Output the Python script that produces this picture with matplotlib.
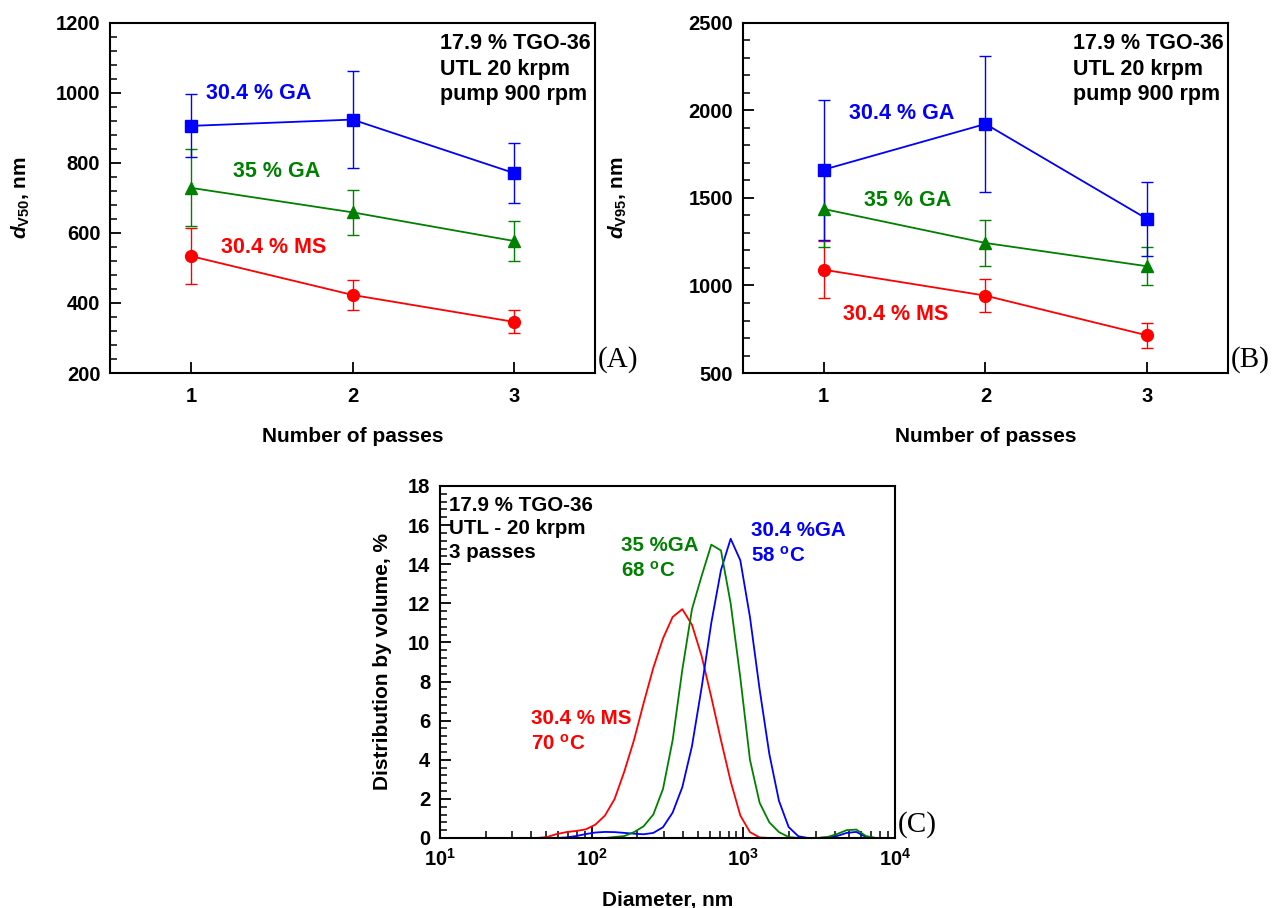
import numpy as np
import matplotlib
matplotlib.use('Agg')
import matplotlib.pyplot as plt
from matplotlib.ticker import MultipleLocator, LogLocator, NullFormatter

plt.rcParams['font.family'] = ['Liberation Sans', 'DejaVu Sans']
plt.rcParams['font.weight'] = 'bold'
plt.rcParams['axes.labelweight'] = 'bold'
plt.rcParams['mathtext.fontset'] = 'custom'
plt.rcParams['mathtext.rm'] = 'Liberation Sans:bold'
plt.rcParams['mathtext.bf'] = 'Liberation Sans:bold'
plt.rcParams['mathtext.it'] = 'Liberation Sans:italic:bold'

# --- panel A / B data (number of passes) ---
passes = [1, 2, 3]
ga304_d50 = [906, 924, 771]
ga304_d50_err = [90, 138, 85]
ga35_d50 = [729, 659, 577]
ga35_d50_err = [110, 65, 57]
ms304_d50 = [534, 423, 346]
ms304_d50_err = [80, 42, 33]

ga304_d95 = [1662, 1923, 1380]
ga304_d95_err = [400, 386, 209]
ga35_d95 = [1437, 1243, 1110]
ga35_d95_err = [215, 130, 110]
ms304_d95 = [1090, 942, 715]
ms304_d95_err = [162, 93, 72]

# --- panel C data (size distribution, instrument bins in nm) ---
diam = [10.1, 11.7, 13.54, 15.69, 18.17, 21.04, 24.36, 28.21, 32.67, 37.84,
        43.82, 50.75, 58.77, 68.06, 78.82, 91.28, 105.7, 122.4, 141.8, 164.2,
        190.1, 220.2, 255.0, 295.3, 342.0, 396.1, 458.7, 531.2, 615.1, 712.4,
        825.0, 955.4, 1106, 1281, 1484, 1718, 1990, 2305, 2669, 3091,
        3580, 4145, 4801, 5560, 6439, 7456, 8635]
dist_ms304 = [0, 0, 0, 0, 0, 0, 0, 0, 0, 0,
              0, 0.05, 0.2, 0.3, 0.36, 0.44, 0.68, 1.15, 2.0, 3.4,
              5.0, 6.9, 8.7, 10.2, 11.3, 11.7, 10.9, 9.3, 7.2, 5.0,
              2.9, 1.15, 0.3, 0.03, 0.0]
dist_ga35 = [0, 0, 0, 0, 0, 0, 0, 0, 0, 0,
             0, 0, 0, 0, 0, 0, 0, 0, 0.05, 0.1,
             0.3, 0.6, 1.2, 2.5, 5.0, 8.6, 11.7, 13.4, 15.0, 14.7,
             12.0, 8.2, 4.0, 1.8, 0.8, 0.3, 0.05, 0, 0, 0,
             0.05, 0.2, 0.4, 0.43, 0.1, 0, 0]
dist_ga304 = [0, 0, 0, 0, 0, 0, 0, 0, 0, 0,
              0, 0, 0, 0.03, 0.1, 0.2, 0.28, 0.31, 0.3, 0.26,
              0.22, 0.19, 0.26, 0.55, 1.3, 2.6, 4.7, 7.7, 11.0, 13.7,
              15.3, 14.2, 11.3, 7.6, 4.3, 1.9, 0.56, 0.09, 0, 0,
              0.03, 0.1, 0.26, 0.31, 0.05, 0, 0]

BLUE = '#0000ff'
GREEN = '#008000'
RED = '#ff0000'
TICK_FS = 14.5
LAB_FS = 15
ANN_FS = 15.5

fig = plt.figure(figsize=(12.72, 9.08), dpi=100)
axA = fig.add_axes([0.0865, 0.5892, 0.3813, 0.3855])
axB = fig.add_axes([0.5841, 0.5892, 0.3813, 0.3855])
axC = fig.add_axes([0.3459, 0.0771, 0.3577, 0.3877])


def pass_panel(ax, series, ylim, major, minor, ylabel, letter, labels):
    for y, err, col, mk in series:
        ax.errorbar(passes, y, yerr=err, color=col, marker=mk, ms=8.5,
                    lw=1.3, elinewidth=1, capsize=4, capthick=1)
    ax.set_xlim(0.5, 3.5)
    ax.set_ylim(*ylim)
    ax.set_xticks(passes)
    ax.yaxis.set_major_locator(MultipleLocator(major))
    ax.yaxis.set_minor_locator(MultipleLocator(minor))
    ax.tick_params(axis='both', which='major', direction='in', length=8,
                   width=1.3, labelsize=TICK_FS)
    ax.tick_params(axis='y', which='major', pad=7)
    ax.tick_params(axis='x', which='major', pad=10)
    ax.tick_params(axis='y', which='minor', direction='in', length=5, width=1.1)
    for s in ax.spines.values():
        s.set_linewidth(1.5)
    ax.set_xlabel('Number of passes', fontsize=LAB_FS)
    ax.xaxis.set_label_coords(0.5, -0.155)
    ax.set_ylabel(ylabel, fontsize=LAB_FS)
    ax.text(1.005, 0.0, letter, transform=ax.transAxes, fontsize=21,
            family='Liberation Serif', fontweight='normal', va='bottom')
    ax.text(0.68, 0.972, '17.9 % TGO-36\nUTL 20 krpm\npump 900 rpm',
            transform=ax.transAxes, fontsize=ANN_FS, va='top', ha='left',
            linespacing=1.3)
    for txt, col, x, y in labels:
        ax.text(x, y, txt, color=col, transform=ax.transAxes, fontsize=ANN_FS,
                va='center', ha='left')


pass_panel(axA,
           [(ms304_d50, ms304_d50_err, RED, 'o'),
            (ga35_d50, ga35_d50_err, GREEN, '^'),
            (ga304_d50, ga304_d50_err, BLUE, 's')],
           (200, 1200), 200, 40, r'$\mathit{d}_{\mathbf{V50}}$, nm', '(A)',
           [('30.4 % GA', BLUE, 0.198, 0.799),
            ('35 % GA', GREEN, 0.254, 0.576),
            ('30.4 % MS', RED, 0.229, 0.359)])
axA.yaxis.set_label_coords(-0.16, 0.5)

pass_panel(axB,
           [(ms304_d95, ms304_d95_err, RED, 'o'),
            (ga35_d95, ga35_d95_err, GREEN, '^'),
            (ga304_d95, ga304_d95_err, BLUE, 's')],
           (500, 2500), 500, 100, r'$\mathit{d}_{\mathbf{V95}}$, nm', '(B)',
           [('30.4 % GA', BLUE, 0.219, 0.741),
            ('35 % GA', GREEN, 0.249, 0.494),
            ('30.4 % MS', RED, 0.206, 0.167)])
axB.yaxis.set_label_coords(-0.235, 0.5)

# panel C
axC.plot(diam[:len(dist_ms304)], dist_ms304, color=RED, lw=1.3)
axC.plot(diam, dist_ga304, color=BLUE, lw=1.3)
axC.plot(diam, dist_ga35, color=GREEN, lw=1.3)
axC.set_xscale('log')
axC.set_xlim(10, 10000)
axC.set_ylim(0, 18)
axC.set_xticks([10, 100, 1000, 10000])
axC.set_xticklabels([r'$\mathbf{10^{1}}$', r'$\mathbf{10^{2}}$',
                     r'$\mathbf{10^{3}}$', r'$\mathbf{10^{4}}$'])
axC.xaxis.set_minor_locator(LogLocator(base=10, subs=np.arange(2, 10)))
axC.xaxis.set_minor_formatter(NullFormatter())
axC.yaxis.set_major_locator(MultipleLocator(2))
axC.yaxis.set_minor_locator(MultipleLocator(0.4))
axC.tick_params(axis='both', which='major', direction='in', length=8,
                width=1.3, labelsize=TICK_FS, pad=7)
axC.tick_params(axis='both', which='minor', direction='in', length=5, width=1.1)
for s in axC.spines.values():
    s.set_linewidth(1.5)
axC.set_xlabel('Diameter, nm', fontsize=LAB_FS)
axC.xaxis.set_label_coords(0.5, -0.15)
axC.set_ylabel('Distribution by volume, %', fontsize=LAB_FS)
axC.yaxis.set_label_coords(-0.105, 0.5)
axC.text(1.005, 0.0, '(C)', transform=axC.transAxes, fontsize=21,
         family='Liberation Serif', fontweight='normal', va='bottom')
axC.text(0.02, 0.972, '17.9 % TGO-36\nUTL - 20 krpm\n3 passes',
         transform=axC.transAxes, fontsize=14.8, va='top', ha='left',
         linespacing=1.3)
axC.text(0.398, 0.858, '35 %GA\n68 $^{\\mathbf{o}}$C', color=GREEN,
         transform=axC.transAxes, fontsize=14.8, va='top', ha='left',
         linespacing=1.35)
axC.text(0.683, 0.9, '30.4 %GA\n58 $^{\\mathbf{o}}$C', color=BLUE,
         transform=axC.transAxes, fontsize=14.8, va='top', ha='left',
         linespacing=1.35)
axC.text(0.20, 0.366, '30.4 % MS\n70 $^{\\mathbf{o}}$C', color=RED,
         transform=axC.transAxes, fontsize=14.8, va='top', ha='left',
         linespacing=1.35)

fig.savefig('out.png', dpi=100)
